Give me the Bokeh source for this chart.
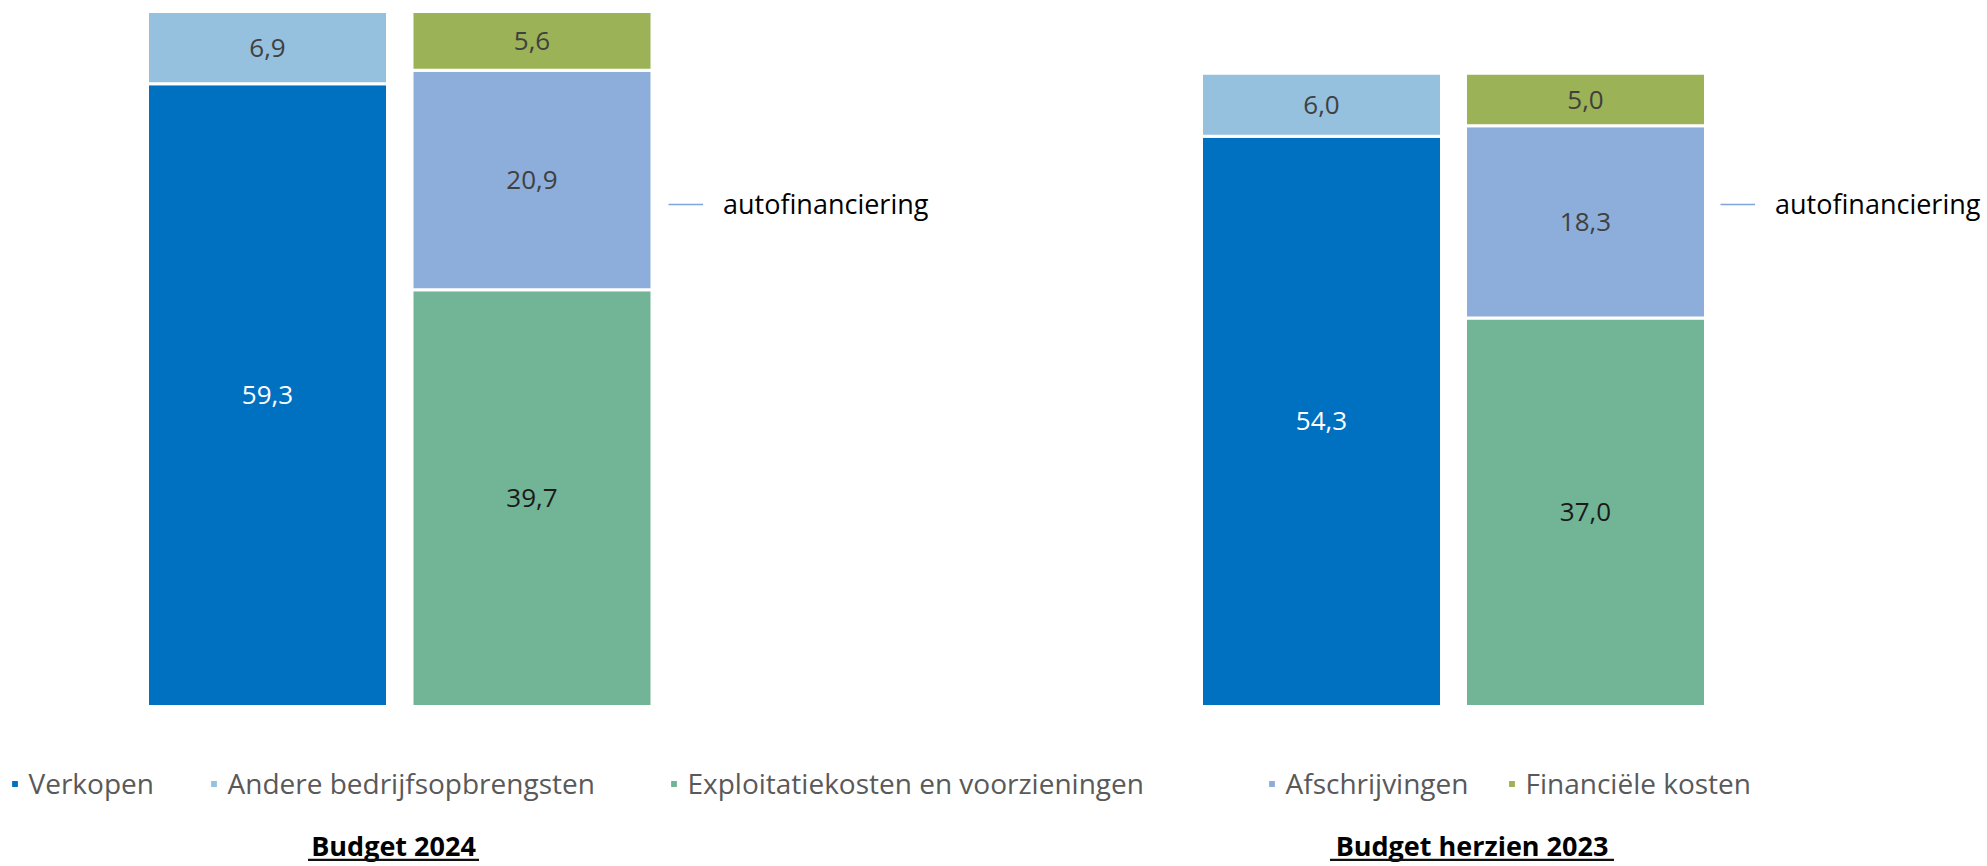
from bokeh.plotting import figure
from bokeh.models import Range1d, ColumnDataSource, Legend, LegendItem, Label, BoxAnnotation
from bokeh.core.properties import value
from bokeh.embed import file_html
from bokeh.resources import INLINE

# ---------------- data ----------------
charts = ["Budget 2024", "Budget herzien 2023"]
series = ["Verkopen", "Andere bedrijfsopbrengsten", "Exploitatiekosten en voorzieningen",
          "Afschrijvingen", "Financiële kosten"]
verkopen = [59.3, 54.3]
andere_bedrijfsopbrengsten = [6.9, 6.0]
exploitatiekosten = [39.7, 37.0]
afschrijvingen = [20.9, 18.3]
financiele_kosten = [5.6, 5.0]
line_series = "autofinanciering"

# ---------------- style / layout ----------------
colors = ["#0070C0", "#95C1DF", "#72B596", "#8DAEDA", "#9BB256"]
label_colors = ["#ffffff", "#404040", "#1a1a1a", "#404040", "#404040"]
W, H = 1987, 866
PX = 10.5                      # pixels per unit
Y0 = -160 / PX                 # baseline 160 px above the bottom edge
rev_x = [267, 1321]            # revenue bar centres (px)
cost_x = [531.5, 1585]         # cost bar centres (px)
bar_w = 240
title_x = [393, 1471.5]
title_w = [171, 284]
legend_x = [8.5, 207.5, 667.5, 1265.5, 1505.5]
auto_x = [668, 1720]

p = figure(width=W, height=H, x_range=Range1d(0, W), y_range=Range1d(Y0, Y0 + H / PX),
           output_backend="svg", toolbar_location=None, min_border=0,
           outline_line_color=None, x_axis_type=None, y_axis_type=None)
p.grid.visible = False


def fmt(v):
    return f"{v:.1f}".replace(".", ",")


def ypx(px_from_bottom):
    return Y0 + px_from_bottom / PX


stacks = []
zeros = [0, 0]
stacks.append((rev_x, zeros, verkopen))
stacks.append((rev_x, verkopen, andere_bedrijfsopbrengsten))
stacks.append((cost_x, zeros, exploitatiekosten))
stacks.append((cost_x, exploitatiekosten, afschrijvingen))
b3 = [a + c for a, c in zip(exploitatiekosten, afschrijvingen)]
stacks.append((cost_x, b3, financiele_kosten))

renderers = []
for (xs, bottoms, vals), col, lcol in zip(stacks, colors, label_colors):
    tops = [bb + v for bb, v in zip(bottoms, vals)]
    src = ColumnDataSource(dict(x=xs, bottom=list(bottoms), top=tops,
                                mid=[(bb + t) / 2 for bb, t in zip(bottoms, tops)],
                                lab=[fmt(v) for v in vals]))
    r = p.vbar(x="x", width=bar_w, bottom="bottom", top="top", source=src,
               fill_color=col, line_color="white", line_width=3)
    renderers.append(r)
    p.text(x="x", y="mid", text="lab", source=src, text_align="center", text_baseline="middle",
           text_font=value("Open Sans"), text_font_size="26px", text_color=lcol)

for r, name, lx in zip(renderers, series, legend_x):
    leg = Legend(items=[LegendItem(label=name, renderers=[r])], location=(lx, 64),
                 orientation="horizontal", glyph_width=11, glyph_height=11, label_standoff=9,
                 padding=0, margin=0, spacing=0, border_line_alpha=0, background_fill_alpha=0,
                 label_text_font="Open Sans", label_text_font_size="28px",
                 label_text_color="#595959", label_height=30)
    p.add_layout(leg)

# invisible line series: only its legend entry is shown
auto_src = ColumnDataSource(dict(x=[rev_x[0], cost_x[0]], y=[float("nan"), float("nan")]))
auto_r = p.line(x="x", y="y", source=auto_src, line_color="#7FA6DC", line_width=1.5)
for ax in auto_x:
    leg = Legend(items=[LegendItem(label=line_series, renderers=[auto_r])], location=(ax, 644),
                 orientation="horizontal", glyph_width=35, glyph_height=30, label_standoff=20,
                 padding=0, margin=0, spacing=0, border_line_alpha=0, background_fill_alpha=0,
                 label_text_font="Open Sans", label_text_font_size="27px",
                 label_text_color="#000000", label_height=30)
    p.add_layout(leg)

for tx, tw, t in zip(title_x, title_w, charts):
    p.add_layout(Label(x=tx, y=ypx(21), text=t,
                       text_align="center", text_baseline="middle",
                       text_font="Open Sans", text_font_style="bold",
                       text_font_size="27px", text_color="#000000"))
    p.add_layout(BoxAnnotation(left=tx - tw / 2, right=tx + tw / 2,
                               bottom=ypx(5.5), top=ypx(7.8),
                               fill_color="#111111", fill_alpha=1, line_alpha=0))

open("out.html", "w").write(file_html(p, INLINE))
